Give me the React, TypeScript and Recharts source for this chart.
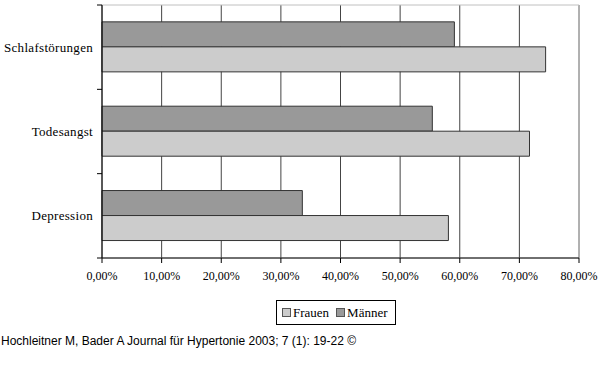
import React from 'react';
import {
  BarChart,
  Bar,
  XAxis,
  YAxis,
  CartesianGrid,
  ReferenceArea,
  Legend,
} from 'recharts';

// symptom categories, top to bottom
const categories = ['Schlafstörungen', 'Todesangst', 'Depression'];
// share of patients in percent
const maennerValues = [59.1, 55.4, 33.6];
const frauenValues = [74.4, 71.7, 58.1];
const xTicks = [0, 10, 20, 30, 40, 50, 60, 70, 80];
const legendOrder = ['Frauen', 'Männer'];

const data = categories.map((name, i) => ({
  name,
  Männer: maennerValues[i],
  Frauen: frauenValues[i],
}));

const COLORS: Record<string, string> = { Frauen: '#cccccc', Männer: '#999999' };
const SERIF = '"Liberation Serif", "Times New Roman", serif';
const AXIS_X = 102;

const formatPct = (v: number) => `${v.toFixed(2).replace('.', ',')}%`;

function CategoryTick(props: any) {
  const { x, y, payload, index } = props;
  const half = payload.offset ?? 42;
  return (
    <g>
      <line x1={AXIS_X - 5} x2={AXIS_X} y1={y - half} y2={y - half} stroke="#000" />
      {index === categories.length - 1 && (
        <line x1={AXIS_X - 5} x2={AXIS_X} y1={y + half} y2={y + half} stroke="#000" />
      )}
      <text
        x={x}
        y={y}
        dy="0.35em"
        textAnchor="end"
        fontFamily={SERIF}
        fontSize={13}
        letterSpacing={0.3}
        fill="#000"
      >
        {payload.value}
      </text>
    </g>
  );
}

function LegendBox() {
  return (
    <div
      style={{
        border: '1px solid #000',
        boxSizing: 'border-box',
        height: 25,
        display: 'flex',
        alignItems: 'center',
        paddingLeft: 5,
        gap: 7,
        fontFamily: SERIF,
        fontSize: 13,
        background: '#fff',
      }}
    >
      {legendOrder.map((k) => (
        <span key={k} style={{ display: 'flex', alignItems: 'center' }}>
          <span
            style={{
              display: 'inline-block',
              width: 7,
              height: 7,
              border: '1px solid #555',
              background: COLORS[k],
              marginRight: 2,
            }}
          />
          {k}
        </span>
      ))}
    </div>
  );
}

export default function App() {
  return (
    <div style={{ position: 'absolute', left: 0, top: 0, width: 600, height: 389, background: '#fff' }}>
      <BarChart
        width={600}
        height={335}
        data={data}
        layout="vertical"
        margin={{ top: 5, right: 21, bottom: 22, left: 0 }}
        barCategoryGap="20%"
        barGap={0}
      >
        <CartesianGrid horizontal={false} stroke="#444" strokeDasharray="" />
        <ReferenceArea x1={0} x2={80} fill="none" stroke="#c0c0c0" fillOpacity={0} />
        <XAxis
          type="number"
          domain={[0, 80]}
          ticks={xTicks}
          tickFormatter={formatPct}
          interval={0}
          height={30}
          tickSize={5}
          tickMargin={8}
          axisLine={{ stroke: '#000' }}
          tickLine={{ stroke: '#000' }}
          tick={{ fill: '#000', fontFamily: SERIF, fontSize: 12 }}
        />
        <YAxis
          type="category"
          dataKey="name"
          width={102}
          tickSize={5}
          tickMargin={4}
          tickLine={false}
          axisLine={{ stroke: '#000' }}
          tick={<CategoryTick />}
          interval={0}
        />
        <Bar dataKey="Männer" fill={COLORS['Männer']} stroke="#333" isAnimationActive={false} />
        <Bar dataKey="Frauen" fill={COLORS.Frauen} stroke="#333" isAnimationActive={false} />
        <Legend
          content={<LegendBox />}
          verticalAlign="bottom"
          wrapperStyle={{ top: 300, left: 276, width: 120, height: 25 }}
        />
      </BarChart>
      <div
        style={{
          position: 'absolute',
          left: 1,
          top: 334,
          fontFamily: '"Liberation Sans", Arial, sans-serif',
          fontSize: 12,
          color: '#000',
          whiteSpace: 'nowrap',
        }}
      >
        Hochleitner M, Bader A Journal für Hypertonie 2003; 7 (1): 19-22 ©
      </div>
    </div>
  );
}
